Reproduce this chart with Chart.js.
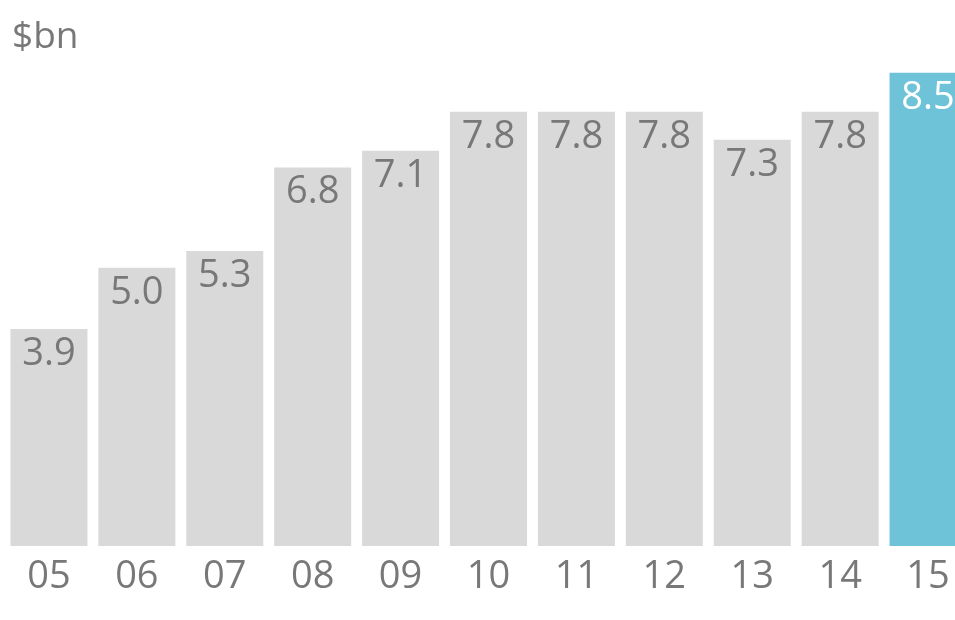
<!DOCTYPE html>
<html lang="en">
<head>
  <meta charset="UTF-8" />
  <title>$bn by year</title>
  <script src="https://cdn.jsdelivr.net/npm/chart.js"></script>
  <style>
    html, body {
      margin: 0;
      padding: 0;
      background: #ffffff;
      overflow: hidden;
    }
    #wrap {
      position: relative;
      width: 975px;
      height: 620px;
    }
  </style>
</head>
<body>
  <div id="wrap"><canvas id="chart"></canvas></div>

  <script>
    const years = ['05', '06', '07', '08', '09', '10', '11', '12', '13', '14', '15'];
    const values = [3.9, 5.0, 5.3, 6.8, 7.1, 7.8, 7.8, 7.8, 7.3, 7.8, 8.5];
    const unitLabel = '$bn';

    const GREY = '#d9d9d9';
    const BLUE = '#6fc3d9';
    const TEXT = '#787878';
    const FONT = "'Open Sans', sans-serif";

    const colors = values.map((v, i) => i === values.length - 1 ? BLUE : GREY);

    // value labels inside the top of each bar + the unit at top left
    const barLabels = {
      id: 'barLabels',
      afterDatasetsDraw(chart) {
        const ctx = chart.ctx;
        const meta = chart.getDatasetMeta(0);
        ctx.save();
        ctx.font = '38px ' + FONT;
        ctx.textAlign = 'center';
        ctx.textBaseline = 'alphabetic';
        meta.data.forEach((bar, i) => {
          ctx.fillStyle = i === values.length - 1 ? '#ffffff' : TEXT;
          ctx.fillText(values[i].toFixed(1), bar.x, bar.y + 36);
        });
        ctx.textAlign = 'left';
        ctx.font = '37px ' + FONT;
        ctx.fillStyle = TEXT;
        ctx.fillText(unitLabel, 12, 48);
        ctx.restore();
      }
    };

    new Chart(document.getElementById('chart'), {
      type: 'bar',
      data: {
        labels: years,
        datasets: [{
          data: values,
          backgroundColor: colors,
          barPercentage: 0.876,
          categoryPercentage: 1
        }]
      },
      options: {
        responsive: true,
        maintainAspectRatio: false,
        animation: false,
        layout: { padding: { left: 5, right: 3, top: 45, bottom: 0 } },
        plugins: {
          legend: { display: false },
          tooltip: { enabled: false }
        },
        scales: {
          x: {
            grid: { display: false, drawTicks: false },
            border: { display: false },
            ticks: {
              color: TEXT,
              font: { family: FONT, size: 38 },
              padding: 8
            },
            afterFit(scale) { scale.height = 74; }
          },
          y: {
            display: false,
            min: 0,
            max: 9
          }
        }
      },
      plugins: [barLabels]
    });
  </script>
</body>
</html>
